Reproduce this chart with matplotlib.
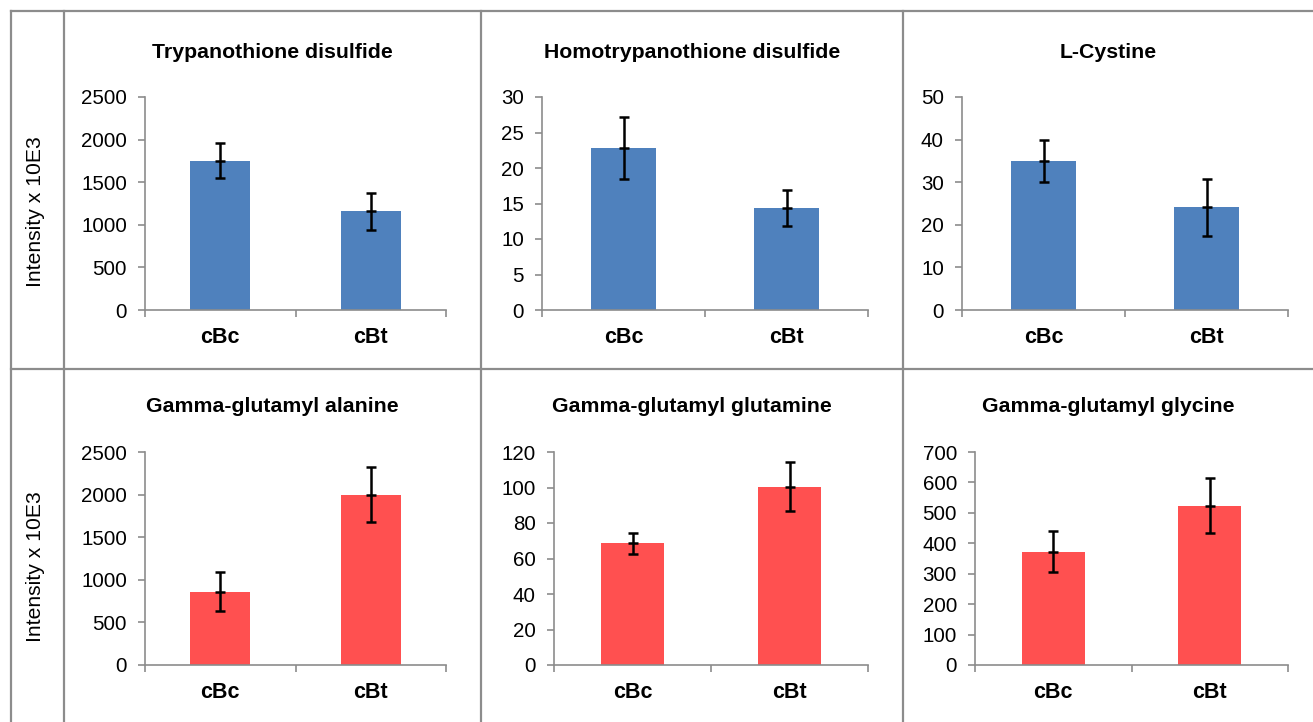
import matplotlib
matplotlib.use("Agg")
import matplotlib.pyplot as plt
from matplotlib.lines import Line2D

plt.rcParams['font.family'] = ['Liberation Sans', 'DejaVu Sans']

categories = ['cBc', 'cBt']
titles = ['Trypanothione disulfide', 'Homotrypanothione disulfide', 'L-Cystine',
          'Gamma-glutamyl alanine', 'Gamma-glutamyl glutamine', 'Gamma-glutamyl glycine']
means = [[1752, 1158], [22.8, 14.4], [35.0, 24.1],
         [862, 1998], [68.5, 100.4], [373, 523]]
errors = [[203, 217], [4.4, 2.55], [4.95, 6.7],
          [225, 323], [6.0, 13.7], [68, 90]]
ymax = [2500, 30, 50, 2500, 120, 700]
ystep = [500, 5, 10, 500, 20, 100]
ylabel = 'Intensity x 10E3'

W, H = 1313, 722
fig = plt.figure(figsize=(W / 100, H / 100), dpi=100)

blue = '#4F81BD'
red = '#FF5050'
gridc = '#8C8C8C'
axc = '#8C8C8C'

# panel axes pixel boxes (left, right, top, bottom)
boxes = [(145, 446, 97, 310), (542, 868, 97, 310), (962, 1288, 97, 310),
         (145, 446, 452, 665), (554, 868, 452, 665), (975, 1288, 452, 665)]
panel_centers = [272, 692, 1108]
title_y = [52, 407]
ylabel_y = [212, 567]

def fx(x):
    return x / W

def fy(y):
    return 1 - y / H

# grid lines
lw = 1.6
for (x0, y0, x1, y1) in [(11, 11, W, 11), (11, 369, W, 369),
                         (11, 11, 11, H), (64, 11, 64, H),
                         (481, 11, 481, H), (903, 11, 903, H)]:
    fig.add_artist(Line2D([fx(x0), fx(x1)], [fy(y0), fy(y1)], color=gridc, lw=lw,
                          transform=fig.transFigure))

for i in range(6):
    l, r, t, b = boxes[i]
    ax = fig.add_axes([fx(l), fy(b), (r - l) / W, (b - t) / H])
    color = blue if i < 3 else red
    xs = list(range(len(categories)))
    ax.bar(xs, means[i], width=0.4, color=color, zorder=2)
    ax.errorbar(xs, means[i], yerr=errors[i], fmt='none', ecolor='black',
                elinewidth=1.8, capsize=3.8, capthick=1.8, zorder=3)
    ax.plot(xs, means[i], linestyle='none', marker='_', ms=7.6, mew=1.8,
            color='black', zorder=3)
    ax.set_xlim(-0.5, 1.5)
    ax.set_ylim(0, ymax[i])
    ax.set_yticks([ystep[i] * k for k in range(int(round(ymax[i] / ystep[i])) + 1)])
    ax.set_xticks(xs)
    ax.set_xticklabels(categories, fontweight='bold', fontsize=15.5)
    ax.set_xticks([-0.5, 0.5, 1.5], minor=True)
    ax.tick_params(axis='x', which='major', length=0, pad=12)
    ax.tick_params(axis='x', which='minor', length=5, width=1.2, color=axc, direction='out')
    ax.tick_params(axis='y', length=5, width=1.2, color=axc, direction='out', labelsize=14.8, pad=8)
    for s in ['top', 'right']:
        ax.spines[s].set_visible(False)
    for s in ['left', 'bottom']:
        ax.spines[s].set_color(axc)
        ax.spines[s].set_linewidth(1.2)
    ax.patch.set_alpha(0)

    row, col = divmod(i, 3)
    fig.text(fx(panel_centers[col]), fy(title_y[row]), titles[i], ha='center', va='center',
             fontsize=15.3, fontweight='bold')

for row in range(2):
    fig.text(fx(36), fy(ylabel_y[row]), ylabel, rotation=90, ha='center', va='center',
             fontsize=15.2)

fig.savefig('out.png', dpi=100)
